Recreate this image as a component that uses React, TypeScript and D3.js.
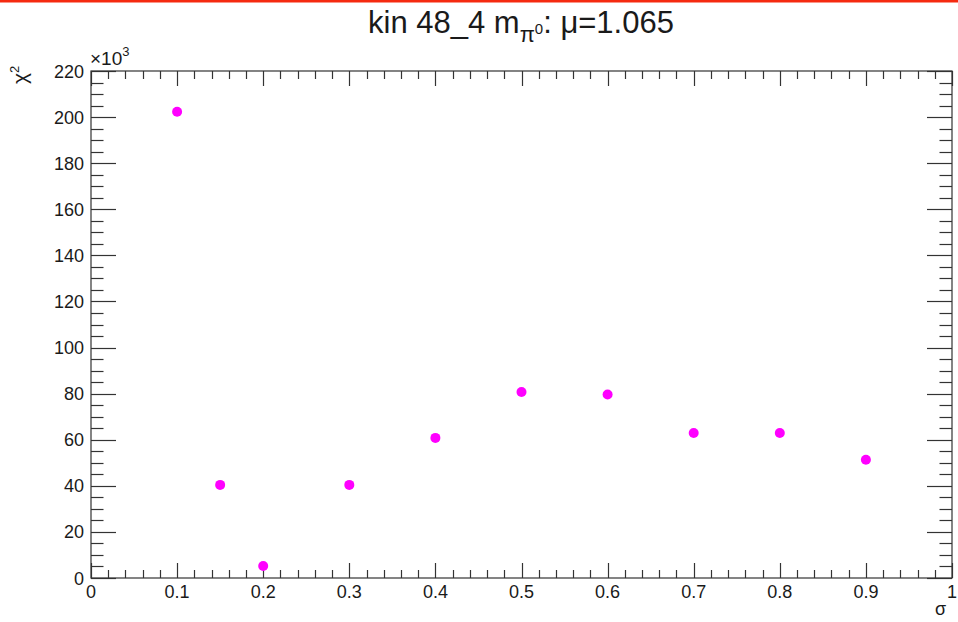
import React, { useEffect, useRef } from "react";
import * as d3 from "d3";

const sigmaValues = [0.1, 0.15, 0.2, 0.3, 0.4, 0.5, 0.6, 0.7, 0.8, 0.9];
const chi2Values = [202.3, 40.4, 5.2, 40.4, 60.8, 80.7, 79.6, 62.9, 62.9, 51.3];
const xTicks = [0, 0.1, 0.2, 0.3, 0.4, 0.5, 0.6, 0.7, 0.8, 0.9, 1];
const yTicks = [0, 20, 40, 60, 80, 100, 120, 140, 160, 180, 200, 220];

const W = 958;
const H = 622;
const FONT = "'Liberation Sans', Arial, Helvetica, sans-serif";

export default function App() {
  const ref = useRef<SVGSVGElement>(null);

  useEffect(() => {
    const svg = d3.select(ref.current);
    svg.selectAll("*").remove();

    const x0 = 91, x1 = 952, y0 = 578, y1 = 71;
    const x = d3.scaleLinear().domain([0, 1]).range([x0, x1]);
    const y = d3.scaleLinear().domain([0, 220]).range([y0, y1]);

    svg.append("rect").attr("width", W).attr("height", H).attr("fill", "#fff");
    svg.append("rect").attr("x", 0).attr("y", 0).attr("width", W).attr("height", 2.5).attr("fill", "#f52a10");

    const g = svg.append("g");
    const axisColor = "#333";
    const textColor = "#1a1a1a";

    // frame
    g.append("rect")
      .attr("x", x0).attr("y", y1).attr("width", x1 - x0).attr("height", y0 - y1)
      .attr("fill", "none").attr("stroke", axisColor).attr("stroke-width", 1.2);

    // x ticks (bottom and top)
    const xMinor = d3.range(0, 1.0001, 0.02);
    xMinor.forEach((v) => {
      const isMajor = Math.abs(v * 10 - Math.round(v * 10)) < 1e-6;
      const len = isMajor ? 15 : 8;
      const px = Math.round(x(v)) + 0.5;
      g.append("line").attr("x1", px).attr("x2", px).attr("y1", y0).attr("y2", y0 - len)
        .attr("stroke", axisColor).attr("stroke-width", 1.2);
      g.append("line").attr("x1", px).attr("x2", px).attr("y1", y1).attr("y2", y1 + len)
        .attr("stroke", axisColor).attr("stroke-width", 1.2);
    });

    // y ticks (left and right)
    const yMinor = d3.range(0, 220.001, 5);
    yMinor.forEach((v) => {
      const isMajor = v % 20 === 0;
      const len = isMajor ? 25 : 12.5;
      const py = Math.round(y(v)) + 0.5;
      g.append("line").attr("x1", x0).attr("x2", x0 + len).attr("y1", py).attr("y2", py)
        .attr("stroke", axisColor).attr("stroke-width", 1.2);
      g.append("line").attr("x1", x1).attr("x2", x1 - len).attr("y1", py).attr("y2", py)
        .attr("stroke", axisColor).attr("stroke-width", 1.2);
    });

    // x tick labels
    g.selectAll(".xl").data(xTicks).enter().append("text")
      .attr("x", (d) => x(d)).attr("y", 598)
      .attr("text-anchor", "middle").attr("font-family", FONT).attr("font-size", 18)
      .attr("fill", textColor)
      .text((d) => String(d));

    // y tick labels
    g.selectAll(".yl").data(yTicks).enter().append("text")
      .attr("x", 84).attr("y", (d) => y(d) + 6.5)
      .attr("text-anchor", "end").attr("font-family", FONT).attr("font-size", 18)
      .attr("fill", textColor)
      .text((d) => String(d));

    // x10^3
    const exp = g.append("text").attr("x", 90).attr("y", 65)
      .attr("font-family", FONT).attr("font-size", 19).attr("fill", textColor);
    exp.append("tspan").text("×10");
    exp.append("tspan").attr("dy", -9).attr("font-size", 13).text("3");

    // axis titles
    g.append("text").attr("x", 946).attr("y", 615).attr("text-anchor", "end")
      .attr("font-family", FONT).attr("font-size", 18).attr("fill", textColor).text("σ");

    const yt = g.append("text")
      .attr("transform", "translate(27,84) rotate(-90)")
      .attr("text-anchor", "start")
      .attr("font-family", FONT).attr("font-size", 21).attr("fill", textColor);
    yt.append("tspan").text("χ");
    yt.append("tspan").attr("dy", -8).attr("font-size", 13).text("2");

    // title
    const t = g.append("text").attr("x", 368).attr("y", 33)
      .attr("font-family", FONT).attr("font-size", 31).attr("fill", textColor);
    t.append("tspan").text("kin 48_4 m");
    t.append("tspan").attr("dy", 9).attr("font-size", 22).text("π");
    t.append("tspan").attr("dy", -8).attr("font-size", 15).text("0");
    t.append("tspan").attr("dy", -1).text(": μ=1.065");

    // points
    g.selectAll(".pt").data(sigmaValues.map((s, i) => [s, chi2Values[i]])).enter()
      .append("circle")
      .attr("cx", (d) => x(d[0])).attr("cy", (d) => y(d[1]))
      .attr("r", 5).attr("fill", "#ff00ff");
  }, []);

  return (
    <svg
      ref={ref}
      width={W}
      height={H}
      style={{ position: "absolute", left: 0, top: 0 }}
    />
  );
}
